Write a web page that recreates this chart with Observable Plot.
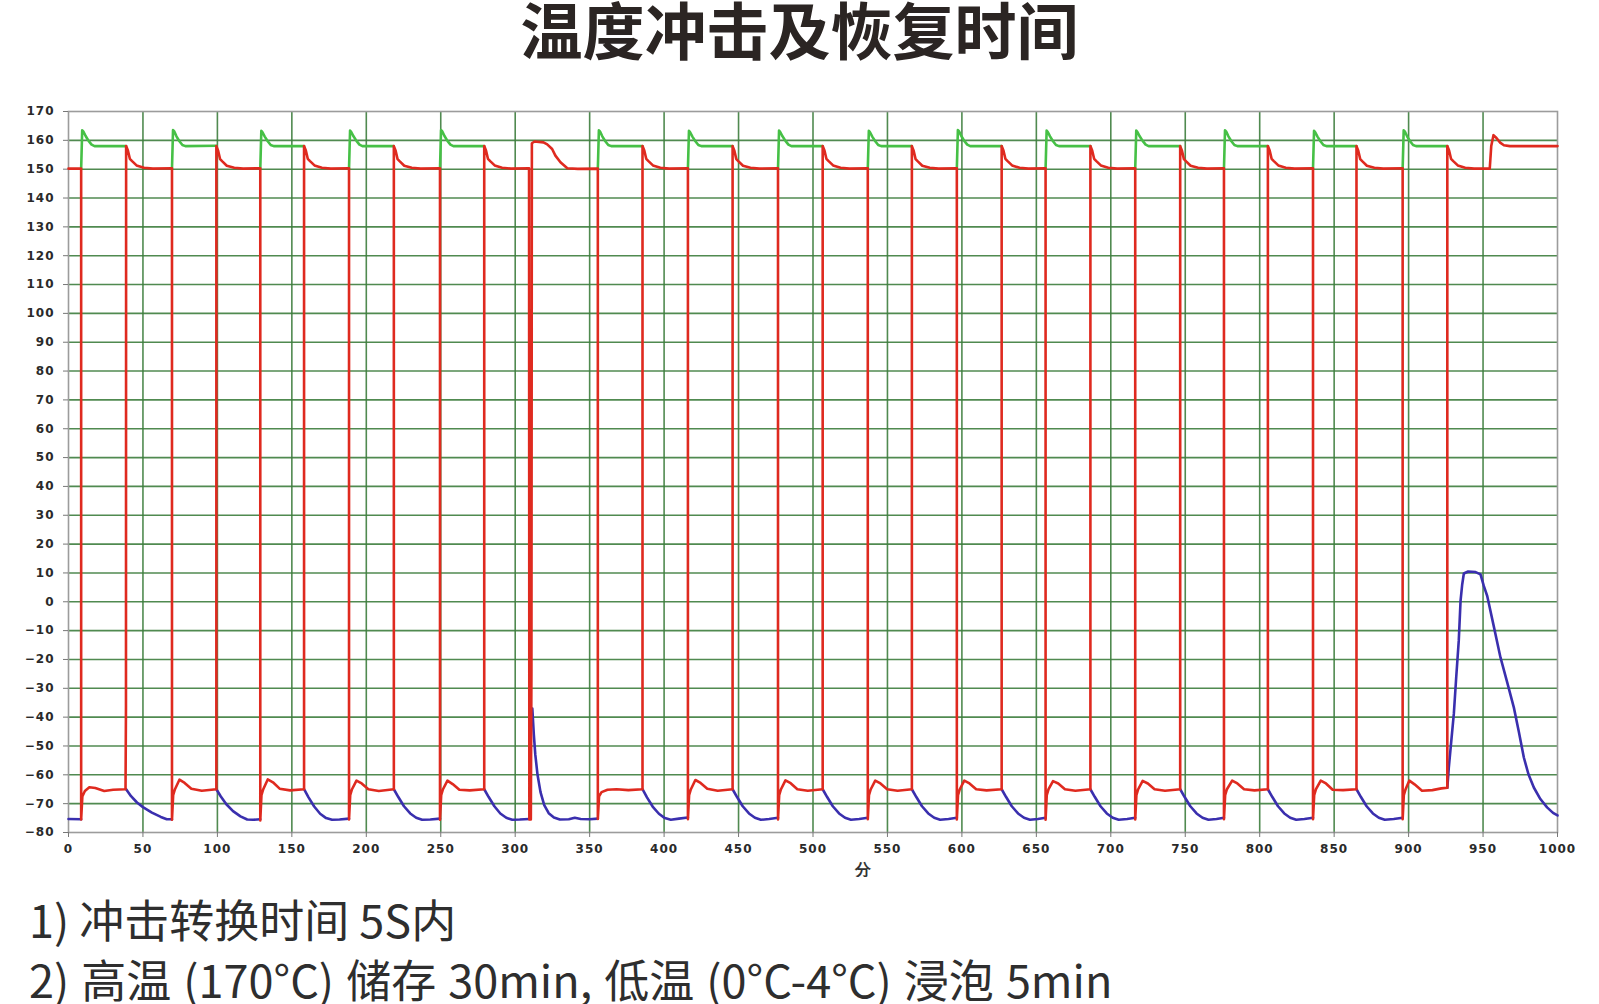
<!DOCTYPE html>
<html><head><meta charset="utf-8">
<script src="https://cdn.jsdelivr.net/npm/d3@7"></script>
<script src="https://cdn.jsdelivr.net/npm/@observablehq/plot@0.6"></script>
<style>
html,body{margin:0;padding:0;background:#fff;}
#wrap{position:relative;width:1599px;height:1004px;overflow:hidden;background:#fff;}
#title{position:absolute;left:0;top:0;width:1599px;text-align:center;font-family:"Noto Sans CJK SC";font-weight:700;font-size:62px;line-height:56px;color:#2b2523;}
#chart{position:absolute;left:0;top:90px;}
.cap{position:absolute;left:29px;font-family:"Noto Sans CJK SC";font-size:45px;color:#2e2e2e;white-space:pre;line-height:1;}
</style></head><body>
<div id="wrap">
<div id="title">温度冲击及恢复时间</div>
<div id="chart"></div>
<div class="cap" style="top:896px">1) 冲击转换时间 5S内</div>
<div class="cap" style="top:956px;word-spacing:2px">2) 高温 (170°C) 储存 30min, 低温 (0°C-4°C) 浸泡 5min</div>
</div>
<script>
const xTicks = [0,50,100,150,200,250,300,350,400,450,500,550,600,650,700,750,800,850,900,950,1000];
const yTicks = [-80,-70,-60,-50,-40,-30,-20,-10,0,10,20,30,40,50,60,70,80,90,100,110,120,130,140,150,160,170];
const xUnitLabel = "分";

// red trace (time in minutes, temperature)
const redTrace = [
[0,150.2],[8.5,150.2],
[8.5,-75.5],[9.3,-67.5],[11,-65.6],[14,-64.3],[18,-64.6],[24,-65.6],[30,-65.2],[38.3,-65],[38.6,-36],
[38.7,158],[39.9,156.5],[41.2,153.6],[42.7,152.8],[45.7,151.3],[50.7,150.5],[56.7,150.2],[69.5,150.3],
[69.5,-75.6],[70.3,-67],[71.5,-65],[74.5,-61.7],[78,-62.8],[82.5,-64.8],[89.5,-65.5],[99.3,-65],
[99.3,158],[100.5,156.4],[101.8,153.5],[103.3,152.7],[106.3,151.2],[111.3,150.5],[117.3,150.2],[128.8,150.3],
[128.8,-75.8],[129.6,-67],[130.8,-65],[133.8,-61.6],[137.3,-62.6],[141.8,-64.8],[148.8,-65.4],[158.2,-65],
[158.2,158],[159.4,156.5],[160.7,153.6],[162.2,152.8],[165.2,151.3],[170.2,150.5],[176.2,150.2],[188.4,150.3],
[188.4,-75.5],[189.2,-67],[190.4,-65],[193.4,-62],[196.9,-63],[201.4,-65],[208.4,-65.6],[218.5,-65],
[218.5,158],[219.7,156.4],[221,153.5],[222.5,152.7],[225.5,151.2],[230.5,150.5],[236.5,150.2],[249.5,150.3],
[249.5,-75.6],[250.3,-67],[251.5,-65],[254.5,-62],[258,-63.2],[262.5,-65.2],[269.5,-65.4],[279.2,-65],
[279.2,158],[280.4,156.5],[281.7,153.6],[283.2,152.8],[286.2,151.3],[291.2,150.5],[297.2,150.2],[309.3,150.3],
[309.5,-75.5],[310.5,-75.5],[310.9,-25],[311.2,159],[313,159.6],[319,159.3],[321.5,158.6],[324.8,157],[327,154.7],[330.4,152.4],[335,150.3],[342,150.1],[355.5,150.2],
[355.5,-75.3],[356.3,-67.5],[358,-66],[362,-65.2],[368,-65],[376,-65.3],[385.5,-65],
[385.5,158],[386.7,156.5],[388,153.6],[389.5,152.8],[392.5,151.3],[397.5,150.5],[403.5,150.2],[416,150.3],
[416,-75.4],[416.8,-67],[418,-65],[421,-61.8],[424.5,-62.8],[429,-64.8],[436,-65.5],[446,-65],
[446,158],[447.2,156.4],[448.5,153.5],[450,152.7],[453,151.2],[458,150.5],[464,150.2],[476.5,150.3],
[476.5,-75.5],[477.3,-67],[478.5,-65],[481.5,-61.9],[485,-62.9],[489.5,-65],[496.5,-65.5],[506.5,-65],
[506.5,158],[507.7,156.5],[509,153.6],[510.5,152.8],[513.5,151.3],[518.5,150.5],[524.5,150.2],[536.8,150.3],
[536.8,-75.4],[537.6,-67],[538.8,-65],[541.8,-62],[545.3,-63],[549.8,-65],[556.8,-65.5],[566.4,-65],
[566.4,158],[567.6,156.4],[568.9,153.5],[570.4,152.7],[573.4,151.2],[578.4,150.5],[584.4,150.2],[596.6,150.3],
[596.6,-75.5],[597.4,-67],[598.6,-65],[601.6,-62],[605.1,-63],[609.6,-65],[616.6,-65.4],[626.7,-65],
[626.7,158],[627.9,156.5],[629.2,153.6],[630.7,152.8],[633.7,151.3],[638.7,150.5],[644.7,150.2],[656.2,150.3],
[656.2,-75.6],[657,-67],[658.2,-65],[661.2,-62.2],[664.7,-63],[669.2,-65],[676.2,-65.5],[686.3,-65],
[686.3,158],[687.5,156.5],[688.8,153.6],[690.3,152.8],[693.3,151.3],[698.3,150.5],[704.3,150.2],[716.4,150.3],
[716.4,-75.5],[717.2,-67],[718.4,-65],[721.4,-62.1],[724.9,-63],[729.4,-65],[736.4,-65.5],[746.6,-65],
[746.6,158],[747.8,156.4],[749.1,153.5],[750.6,152.7],[753.6,151.2],[758.6,150.5],[764.6,150.2],[776,150.3],
[776,-75.4],[776.8,-67],[778,-65],[781.5,-62],[785,-63],[789.5,-65],[796.5,-65.4],[805.5,-65],
[805.5,158],[806.7,156.5],[808,153.6],[809.5,152.8],[812.5,151.3],[817.5,150.5],[823.5,150.2],[835.8,150.3],
[835.8,-75.4],[836.6,-67],[837.8,-65],[841,-62],[844.5,-63],[849,-65.2],[856,-65.3],[865,-65],
[865,158],[866.2,156.4],[867.5,153.5],[869,152.7],[872,151.2],[877,150.5],[883,150.2],[896,150.3],
[896,-75.4],[896.8,-67],[898,-65],[900.5,-62],[904,-63.3],[909,-65.5],[916,-65.3],[922,-64.7],[926,-64.5],
[926,158],[927.2,156.5],[928.5,153.6],[930,152.8],[933,151.3],[938,150.5],[944,150.2],[954.5,150.2],[955.5,158],[957,161.8],[959,160.8],[961.5,159.2],[964,158.3],[968,158],[1000,158]
];

// green segments (hot chamber, visible while red trace is low)
const greenSegments = [
[[8.5,150.2],[9.2,163.5],[10,163],[11.5,161.5],[13.5,159.8],[15.5,158.5],[17.5,158],[38.7,158]],
[[69.5,150.2],[70.2,163.6],[71,163.1],[72.5,161.4],[74.5,159.7],[76.5,158.4],[78.5,158],[99.3,158.1]],
[[128.8,150.2],[129.5,163.3],[130.3,162.8],[131.8,161.3],[133.8,159.7],[135.8,158.4],[137.8,158],[158.2,158]],
[[188.4,150.2],[189.1,163.4],[189.9,162.9],[191.4,161.4],[193.4,159.8],[195.4,158.5],[197.4,158],[218.5,158]],
[[249.5,150.2],[250.2,163.6],[251,163.1],[252.5,161.5],[254.5,159.8],[256.5,158.5],[258.5,158],[279.2,158]],
[[355.5,150.2],[356.2,163.5],[357,163],[358.5,161.4],[360.5,159.7],[362.5,158.4],[364.5,158],[385.5,158]],
[[416,150.2],[416.7,163.3],[417.5,162.8],[419,161.3],[421,159.7],[423,158.4],[425,158],[446,158]],
[[476.5,150.2],[477.2,163.4],[478,162.9],[479.5,161.4],[481.5,159.8],[483.5,158.5],[485.5,158],[506.5,158]],
[[536.8,150.2],[537.5,163.3],[538.3,162.8],[539.8,161.3],[541.8,159.7],[543.8,158.4],[545.8,158],[566.4,158]],
[[596.6,150.2],[597.3,163.6],[598.1,163.1],[599.6,161.5],[601.6,159.8],[603.6,158.5],[605.6,158],[626.7,158]],
[[656.2,150.2],[656.9,163.4],[657.7,162.9],[659.2,161.4],[661.2,159.7],[663.2,158.4],[665.2,158],[686.3,158]],
[[716.4,150.2],[717.1,163.4],[717.9,162.9],[719.4,161.4],[721.4,159.8],[723.4,158.5],[725.4,158],[746.6,158]],
[[776,150.2],[776.7,163.5],[777.5,163],[779,161.4],[781,159.7],[783,158.4],[785,158],[805.5,158]],
[[835.8,150.2],[836.5,163.3],[837.3,162.8],[838.8,161.3],[840.8,159.7],[842.8,158.4],[844.8,158],[865,158]],
[[896,150.2],[896.7,163.5],[897.5,163],[899,161.4],[901,159.7],[903,158.4],[905,158],[926,158]]
];

// blue segments (cold chamber, visible while red trace is high)
const blueSegments = [
[[0,-75.3],[8.5,-75.4]],
[[38.7,-65],[42,-67.4],[46,-69.6],[50,-71.2],[56,-73.1],[62,-74.6],[66,-75.4],[69.5,-75.4]],
[[99.3,-65],[102.3,-67.5],[106,-70.2],[110.5,-72.6],[115.5,-74.4],[120,-75.5],[124,-75.6],[128.8,-75.4]],
[[158.2,-65],[161.2,-67.8],[165,-71],[169,-73.5],[173,-75],[177,-75.6],[182,-75.5],[188.4,-75.2]],
[[218.5,-65],[221.5,-67.7],[225.3,-70.9],[229.5,-73.4],[233.5,-74.9],[237.5,-75.6],[243,-75.5],[249.5,-75.2]],
[[279.2,-65],[282.2,-67.7],[286,-70.9],[290,-73.4],[294,-74.9],[298,-75.6],[303,-75.5],[309.3,-75.3]],
[[311.5,-37],[312.5,-46],[313.5,-53],[315,-60],[317,-66],[319.5,-70.5],[322.5,-73.3],[326,-74.8],[330,-75.5],[336,-75.4],[340,-74.9],[344,-75.3],[350,-75.4],[355.5,-75.2]],
[[385.5,-65],[388.5,-67.8],[392.3,-71],[396.5,-73.5],[400.5,-75],[404.5,-75.6],[410,-75.2],[416,-74.8]],
[[446,-65],[449,-67.7],[452.8,-70.9],[457,-73.4],[461,-74.9],[465,-75.6],[470.5,-75.3],[476.5,-74.9]],
[[506.5,-65],[509.5,-67.7],[513.3,-70.9],[517.5,-73.4],[521.5,-74.9],[525.5,-75.6],[531,-75.3],[536.8,-74.9]],
[[566.4,-65],[569.4,-67.7],[573.2,-70.9],[577.4,-73.4],[581.4,-74.9],[585.4,-75.6],[591,-75.3],[596.6,-74.9]],
[[626.7,-65],[629.7,-67.7],[633.5,-70.9],[637.7,-73.4],[641.7,-74.9],[645.7,-75.6],[651,-75.3],[656.2,-74.9]],
[[686.3,-65],[689.3,-67.7],[693.1,-70.9],[697.3,-73.4],[701.3,-74.9],[705.3,-75.6],[711,-75.3],[716.4,-74.9]],
[[746.6,-65],[749.6,-67.7],[753.4,-70.9],[757.6,-73.4],[761.6,-74.9],[765.6,-75.6],[771,-75.3],[776,-74.9]],
[[805.5,-65],[808.5,-67.7],[812.3,-70.9],[816.5,-73.4],[820.5,-74.9],[824.5,-75.6],[830,-75.3],[835.8,-74.9]],
[[865,-65],[868,-67.7],[871.8,-70.9],[876,-73.4],[880,-74.9],[884,-75.6],[890,-75.3],[896,-74.9]],
[[926,-64.5],[927,-57.5],[930.4,-38.7],[932,-26],[933.7,-13.4],[934.9,0.4],[936,6],[937.1,9.8],[940,10.5],[945,10.3],[948.3,9.5],[950.5,5.5],[952.8,2],[957,-8],[961.7,-19.3],[966,-27.5],[970.7,-36.7],[974,-45],[977.4,-54],[980.5,-59.8],[984.1,-64.4],[988.5,-68.4],[993,-71.3],[997,-73.2],[1000,-74.1]]
];

const toRows = segs => segs.flatMap((s, i) => s.map(([t, v]) => ({t, v, seg: i})));
const greenRows = toRows(greenSegments);
const blueRows = toRows(blueSegments);
const redRows = redTrace.map(([t, v]) => ({t, v}));

const gridColor = "#3d7d3d";
const chart = Plot.plot({
  width: 1599,
  height: 787,
  marginTop: 21,
  marginLeft: 68,
  marginRight: 42,
  marginBottom: 45,
  x: {domain: [0, 1000]},
  y: {domain: [-80, 170]},
  style: {fontFamily: "DejaVu Sans", fontSize: "12px", fontWeight: "bold", color: "#2a2a2a", background: "transparent", letterSpacing: "1px"},
  marks: [
    Plot.ruleX(xTicks.filter(d => d > 0 && d < 1000), {stroke: gridColor, strokeWidth: 1.6, strokeOpacity: 0.9}),
    Plot.ruleY(yTicks.filter(d => d > -80 && d < 170), {stroke: gridColor, strokeWidth: 1.6, strokeOpacity: 0.9}),
    Plot.frame({stroke: "#9c9c9c", strokeWidth: 1.6}),
    Plot.axisX({ticks: xTicks, tickFormat: d => String(d), tickSize: 5, tickPadding: 7, label: null, stroke: "#777"}),
    Plot.axisY({ticks: yTicks, tickSize: 5, tickPadding: 9, label: null, stroke: "#777"}),
    Plot.line(greenRows, {x: "t", y: "v", z: "seg", stroke: "#46c046", strokeWidth: 2.6}),
    Plot.line(blueRows, {x: "t", y: "v", z: "seg", stroke: "#3a2fae", strokeWidth: 2.6}),
    Plot.line(redRows, {x: "t", y: "v", stroke: "#df2a1f", strokeWidth: 2.6}),
    Plot.text([xUnitLabel], {frameAnchor: "bottom", dx: 50, dy: 42, fontSize: 16, fill: "#333"})
  ]
});
document.getElementById("chart").appendChild(chart);
</script>
</body></html>
